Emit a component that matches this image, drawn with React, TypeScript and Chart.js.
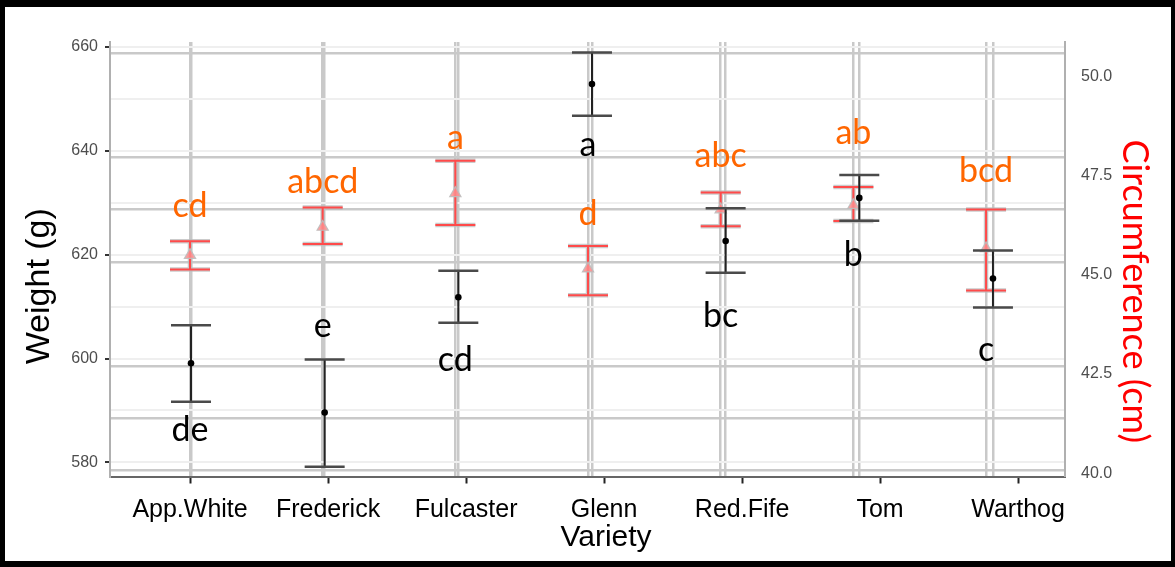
import React, { useEffect, useRef } from 'react';
import { Chart, registerables } from 'chart.js';

Chart.register(...registerables);

// ---------- data ----------
const varieties = ['App.White', 'Frederick', 'Fulcaster', 'Glenn', 'Red.Fife', 'Tom', 'Warthog'];

// Weight (g), left axis – black
const weightMean = [599.1, 589.6, 611.8, 652.8, 622.6, 630.9, 615.4];
const weightHi = [606.4, 599.8, 616.9, 658.9, 628.9, 635.3, 620.8];
const weightLo = [591.7, 579.2, 606.9, 646.7, 616.5, 626.5, 609.8];

// Circumference (cm), right axis – red
const circMean = [45.5, 46.21, 47.06, 45.16, 46.65, 46.76, 45.67];
const circHi = [45.85, 46.7, 47.88, 45.73, 47.08, 47.22, 46.65];
const circLo = [45.14, 45.78, 46.26, 44.49, 46.23, 46.36, 44.61];

// significance letters
const circLetters = ['cd', 'abcd', 'a', 'd', 'abc', 'ab', 'bcd'];
const circLetterY = [46.46, 47.06, 48.17, 46.25, 47.73, 48.3, 47.35];
const weightLetters = ['de', 'e', 'cd', 'a', 'bc', 'b', 'c'];
const weightLetterY = [584.2, 604.1, 597.6, 639.0, 606.0, 617.8, 599.5];

// tick labels
const weightTicks = [580, 590, 600, 610, 620, 630, 640, 650, 660];
const circTicks = [40, 42.5, 45, 47.5, 50];

const SANS = "'Liberation Sans', Arial, Helvetica, sans-serif";
const NOTE = "Lato, 'Open Sans', sans-serif";

const idx = varieties.map((_, i) => i);

export default function App() {
  const ref = useRef<HTMLCanvasElement>(null);

  useEffect(() => {
    document.body.style.margin = '0';
    const canvas = ref.current;
    if (!canvas) return;

    const errorBars = {
      id: 'errorBars',
      beforeDatasetDraw(chart: any, args: any) {
        const ctx = chart.ctx;
        const isRed = args.index === 1;
        const xs = chart.scales[isRed ? 'xr' : 'xb'];
        const ys = chart.scales[isRed ? 'yr' : 'y'];
        const hi = isRed ? circHi : weightHi;
        const lo = isRed ? circLo : weightLo;
        const cap = 20;
        ctx.save();
        ctx.lineCap = 'butt';
        const path = (i: number) => {
          const x = xs.getPixelForValue(i);
          const yh = ys.getPixelForValue(hi[i]);
          const yl = ys.getPixelForValue(lo[i]);
          ctx.beginPath();
          ctx.moveTo(x, yh);
          ctx.lineTo(x, yl);
          ctx.moveTo(x - cap, yh);
          ctx.lineTo(x + cap, yh);
          ctx.moveTo(x - cap, yl);
          ctx.lineTo(x + cap, yl);
        };
        for (const i of idx) {
          if (isRed) {
            path(i);
            ctx.strokeStyle = 'rgba(185,185,185,0.75)';
            ctx.lineWidth = 4.5;
            ctx.stroke();
            path(i);
            ctx.strokeStyle = '#ff4a4a';
            ctx.lineWidth = 2;
            ctx.stroke();
          } else {
            const x = xs.getPixelForValue(i);
            const yh = ys.getPixelForValue(hi[i]);
            const yl = ys.getPixelForValue(lo[i]);
            ctx.beginPath();
            ctx.moveTo(x, yh);
            ctx.lineTo(x, yl);
            ctx.strokeStyle = '#222';
            ctx.lineWidth = 2;
            ctx.stroke();
            ctx.beginPath();
            ctx.moveTo(x - cap, yh);
            ctx.lineTo(x + cap, yh);
            ctx.moveTo(x - cap, yl);
            ctx.lineTo(x + cap, yl);
            ctx.strokeStyle = '#4a4a4a';
            ctx.lineWidth = 2.5;
            ctx.stroke();
          }
        }
        ctx.restore();
      },
    };

    const letters = {
      id: 'letters',
      afterDatasetsDraw(chart: any) {
        const ctx = chart.ctx;
        const xs = chart.scales.xr;
        ctx.save();
        ctx.font = `34px ${NOTE}`;
        ctx.textAlign = 'center';
        ctx.textBaseline = 'alphabetic';
        ctx.fillStyle = '#ff6600';
        for (const i of idx) {
          ctx.fillText(circLetters[i], xs.getPixelForValue(i), chart.scales.yr.getPixelForValue(circLetterY[i]));
        }
        ctx.fillStyle = '#000';
        for (const i of idx) {
          ctx.fillText(weightLetters[i], xs.getPixelForValue(i), chart.scales.y.getPixelForValue(weightLetterY[i]));
        }
        ctx.restore();
      },
    };

    const titles = {
      id: 'titles',
      afterDraw(chart: any) {
        const ctx = chart.ctx;
        const ca = chart.chartArea;
        const cy = (ca.top + ca.bottom) / 2;
        const cx = (ca.left + ca.right) / 2;
        ctx.save();
        ctx.textAlign = 'center';
        ctx.textBaseline = 'middle';
        // left
        ctx.save();
        ctx.translate(ca.left - 70, cy + 27);
        ctx.rotate(-Math.PI / 2);
        ctx.font = `34px ${SANS}`;
        ctx.fillStyle = '#000';
        ctx.fillText('Weight (g)', 0, 0);
        ctx.restore();
        // right
        ctx.save();
        ctx.translate(ca.right + 70, cy + 32);
        ctx.rotate(Math.PI / 2);
        ctx.font = `36px ${NOTE}`;
        ctx.fillStyle = '#ff0000';
        ctx.fillText('Circumference (cm)', 0, 0);
        ctx.restore();
        // bottom
        ctx.font = `30px ${SANS}`;
        ctx.fillStyle = '#000';
        ctx.fillText('Variety', cx + 18.5, ca.bottom + 61);
        ctx.restore();
      },
    };

    const indexTicks = (s: any) => {
      s.ticks = idx.map((v) => ({ value: v }));
    };

    const chart = new Chart(canvas, {
      type: 'scatter',
      data: {
        datasets: [
          {
            label: 'Weight (g)',
            data: weightMean.map((v, i) => ({ x: i, y: v })),
            xAxisID: 'xb',
            yAxisID: 'y',
            pointStyle: 'circle',
            pointRadius: 3.3,
            backgroundColor: '#000',
            borderColor: '#000',
            borderWidth: 0,
          },
          {
            label: 'Circumference (cm)',
            data: circMean.map((v, i) => ({ x: i, y: v })),
            xAxisID: 'xr',
            yAxisID: 'yr',
            pointStyle: 'triangle',
            pointRadius: 6.5,
            backgroundColor: 'rgba(255,140,140,0.85)',
            borderColor: 'rgba(190,190,190,0.9)',
            borderWidth: 1.2,
          },
        ],
      },
      options: {
        responsive: false,
        animation: false,
        devicePixelRatio: 1,
        layout: { padding: { top: 35, left: 0, right: 0, bottom: 0 } },
        plugins: { legend: { display: false }, tooltip: { enabled: false } },
        scales: {
          x: {
            type: 'linear',
            position: 'bottom',
            min: -0.58,
            max: 6.34,
            afterBuildTicks: indexTicks,
            ticks: {
              callback: (v: any) => varieties[Math.round(Number(v))] ?? '',
              color: '#000',
              font: { size: 25, family: SANS },
              padding: 12,
              maxRotation: 0,
              autoSkip: false,
            },
            grid: { drawOnChartArea: false, tickLength: 7, tickColor: '#222', tickWidth: 2 },
            border: { color: '#666', width: 2 },
            afterFit: (s: any) => {
              s.height = 84.5;
            },
          },
          xr: {
            type: 'linear',
            position: 'bottom',
            min: -0.603,
            max: 6.595,
            afterBuildTicks: indexTicks,
            ticks: { display: false },
            grid: { color: '#c9c9c9', lineWidth: 2.5, drawTicks: false },
            border: { display: false },
            afterFit: (s: any) => {
              s.height = 0;
            },
          },
          xb: {
            type: 'linear',
            position: 'bottom',
            min: -0.606,
            max: 6.539,
            afterBuildTicks: indexTicks,
            ticks: { display: false },
            grid: { color: '#c9c9c9', lineWidth: 2.5, drawTicks: false },
            border: { display: false },
            afterFit: (s: any) => {
              s.height = 0;
            },
          },
          yg: {
            type: 'linear',
            position: 'left',
            min: -0.115,
            max: 8.211,
            afterBuildTicks: (s: any) => {
              s.ticks = [0, 1, 2, 3, 4, 5, 6, 7, 8].map((v) => ({ value: v }));
            },
            ticks: { display: false },
            grid: {
              color: (c: any) => (c.tick && (c.tick.value === 3 || c.tick.value === 7) ? 'rgba(0,0,0,0)' : '#c9c9c9'),
              lineWidth: 2.5,
              drawTicks: false,
            },
            border: { display: false },
            afterFit: (s: any) => {
              s.width = 0;
            },
          },
          y: {
            type: 'linear',
            position: 'left',
            min: 577.3,
            max: 660.9,
            afterBuildTicks: (s: any) => {
              s.ticks = weightTicks.map((v) => ({ value: v }));
            },
            ticks: {
              callback: (v: any) => (Number(v) % 20 === 0 ? String(v) : ''),
              color: '#4d4d4d',
              font: { size: 16, family: SANS },
              padding: 7,
            },
            grid: {
              color: '#efefef',
              lineWidth: 2,
              tickLength: 5,
              tickWidth: 2,
              tickColor: (c: any) => (c.tick && c.tick.value % 20 === 0 ? '#333' : 'rgba(0,0,0,0)'),
            },
            border: { color: '#b0b0b0', width: 2 },
            afterFit: (s: any) => {
              s.width = 105;
            },
          },
          yr: {
            type: 'linear',
            position: 'right',
            min: 39.917,
            max: 50.876,
            afterBuildTicks: (s: any) => {
              s.ticks = circTicks.map((v) => ({ value: v }));
            },
            ticks: {
              callback: (v: any) => Number(v).toFixed(1),
              color: '#4d4d4d',
              font: { size: 16, family: SANS },
              padding: 8,
            },
            grid: { display: false },
            border: { color: '#b0b0b0', width: 2 },
            afterFit: (s: any) => {
              s.width = 106;
            },
          },
        },
      },
      plugins: [errorBars, letters, titles],
    } as any);

    return () => chart.destroy();
  }, []);

  return (
    <div style={{ position: 'relative', width: 1175, height: 567, background: '#000', overflow: 'hidden' }}>
      <canvas
        ref={ref}
        width={1166}
        height={554}
        style={{ position: 'absolute', left: 5, top: 7, width: 1166, height: 554, background: '#fff' }}
      />
    </div>
  );
}
